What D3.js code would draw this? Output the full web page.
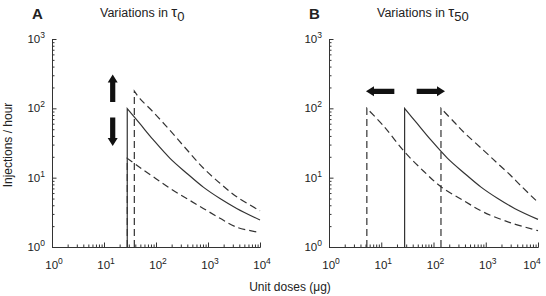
<!DOCTYPE html>
<html>
<head>
<meta charset="utf-8">
<script src="https://cdn.jsdelivr.net/npm/d3@7"></script>
<style>
  body { margin: 0; background: #fff; }
  svg text { font-family: "Liberation Sans", Arial, sans-serif; fill: #222; }
</style>
</head>
<body>
<svg width="546" height="296"></svg>
<script>
// axis extents and tick values
const xDomain = [1, 1e4];
const yDomain = [1, 1e3];
const xMajor = [1, 10, 100, 1000, 10000];
const yMajor = [1, 10, 100, 1000];

// panel A: variations in tau0 ([dose, injections/hour]; first point = onset at floor)
const aSolid = [[28,1],[28,99],[49,60],[89,35],[186,19],[389,11.6],[812,7.3],[1700,5.0],[3560,3.6],[10000,2.45]];
const aUpper = [[38.3,1],[38.3,177],[49,138],[89,88],[186,48],[389,25.5],[812,13.8],[1700,8.3],[3560,5.3],[10000,3.33]];
const aLower = [[28,1],[28,19],[49,14],[89,10.3],[186,7.0],[389,5.0],[812,3.6],[1700,2.6],[3560,1.93],[10000,1.62]];

// panel B: variations in tau50
const bLeft  = [[5.3,1],[5.3,100],[11,56],[28,23.5],[64,12.5],[139,7.4],[372,4.7],[898,3.2],[2911,2.25],[10000,1.72]];
const bSolid = [[28,1],[28,100],[49,60],[89,35],[186,19],[389,11.6],[812,7.3],[1700,5.0],[3560,3.6],[10000,2.5]];
const bRight = [[139,1],[139,100],[250,63],[372,46],[898,25],[1619,16.5],[2911,11],[4730,7.6],[10000,4.4]];

// arrows: [x0,y0,x1,y1] tail -> tip in data units
const aArrows = [[14.7,123,14.7,308],[14.7,73.5,14.7,28.7]];
const bArrows = [[17.8,176,5.1,176],[47.7,176,166,176]];

const panels = [
  {letter:"A", sub:"0",  left:52,  right:260, series:[[aSolid,false],[aUpper,true],[aLower,true]], arrows:aArrows},
  {letter:"B", sub:"50", left:329, right:538, series:[[bLeft,true],[bSolid,false],[bRight,true]], arrows:bArrows}
];

const plotTop = 39, plotBottom = 247;
const svg = d3.select("svg");

panels.forEach(function(p){
  const x = d3.scaleLog().domain(xDomain).range([p.left, p.right]);
  const y = d3.scaleLog().domain(yDomain).range([plotBottom, plotTop]);
  const g = svg.append("g");

  // minor ticks
  const xMinor = x.ticks().filter(v => xMajor.indexOf(v) < 0);
  const yMinor = y.ticks().filter(v => yMajor.indexOf(v) < 0);
  g.append("g").attr("transform", "translate(0," + plotBottom + ")")
    .call(d3.axisBottom(x).tickValues(xMinor).tickSize(-2.5).tickSizeOuter(0).tickFormat(""));
  g.append("g").attr("transform", "translate(" + p.left + ",0)")
    .call(d3.axisLeft(y).tickValues(yMinor).tickSize(-2.5).tickSizeOuter(0).tickFormat(""));
  // major ticks
  g.append("g").attr("transform", "translate(0," + plotBottom + ")")
    .call(d3.axisBottom(x).tickValues(xMajor).tickSize(-4.5).tickSizeOuter(0).tickFormat(""));
  g.append("g").attr("transform", "translate(" + p.left + ",0)")
    .call(d3.axisLeft(y).tickValues(yMajor).tickSize(-4.5).tickSizeOuter(0).tickFormat(""));
  g.selectAll(".domain, .tick line").attr("stroke", "#333").attr("stroke-width", 1);

  // tick labels with superscripts (kept inside the window at the right edge)
  xMajor.forEach(function(v){
    const cx = Math.min(x(v) + 2, 532);
    const t = g.append("text").attr("x", cx).attr("y", plotBottom + 22)
      .attr("text-anchor", "middle").style("font-size", "11.5px");
    t.append("tspan").text("10");
    t.append("tspan").attr("dy", -5).style("font-size", "8.5px").text(Math.round(Math.log10(v)));
  });
  yMajor.forEach(function(v){
    const t = g.append("text").attr("x", p.left - 7).attr("y", y(v) + 4)
      .attr("text-anchor", "end").style("font-size", "11.5px");
    t.append("tspan").text("10");
    t.append("tspan").attr("dy", -5).style("font-size", "8.5px").text(Math.round(Math.log10(v)));
  });

  // curves: vertical onset then smooth decay
  const line = d3.line().x(d => x(d[0])).y(d => y(d[1])).curve(d3.curveCatmullRom.alpha(0.5));
  p.series.forEach(function(s){
    const pts = s[0];
    const d = "M" + x(pts[0][0]) + "," + y(pts[0][1]) + line(pts.slice(1)).replace(/^M/, "L");
    g.append("path").attr("d", d)
      .attr("fill", "none").attr("stroke", "#333").attr("stroke-width", 1.2)
      .attr("stroke-dasharray", s[1] ? "7,4" : null);
  });

  // thick arrows
  p.arrows.forEach(function(a){
    const x0 = x(a[0]), y0 = y(a[1]), x1 = x(a[2]), y1 = y(a[3]);
    const len = Math.hypot(x1 - x0, y1 - y0);
    const ang = Math.atan2(y1 - y0, x1 - x0) * 180 / Math.PI;
    const hl = 8, hw = 5, sw = 2.6;
    g.append("path")
      .attr("transform", "translate(" + x0 + "," + y0 + ") rotate(" + ang + ")")
      .attr("d", "M0," + (-sw) + "L" + (len - hl) + "," + (-sw) + "L" + (len - hl) + "," + (-hw) +
                 "L" + len + ",0L" + (len - hl) + "," + hw + "L" + (len - hl) + "," + sw + "L0," + sw + "Z")
      .attr("fill", "#111");
  });

  // panel letter and title
  svg.append("text").attr("x", p.left - 20).attr("y", 19)
    .style("font-size", "15px").style("font-weight", "bold").text(p.letter);
  const tt = svg.append("text").attr("x", p.left + 48).attr("y", 17).style("font-size", "12.5px");
  tt.append("tspan").text("Variations in ");
  tt.append("tspan").style("font-size", "15px").text("\u03c4");
  tt.append("tspan").attr("dy", 4).style("font-size", "13px").text(p.sub);
});

svg.append("text").attr("transform", "translate(12,145) rotate(-90)")
  .attr("text-anchor", "middle").style("font-size", "12px").text("Injections / hour");
svg.append("text").attr("x", 290).attr("y", 291)
  .attr("text-anchor", "middle").style("font-size", "12px").text("Unit doses (\u03bcg)");
</script>
</body>
</html>
